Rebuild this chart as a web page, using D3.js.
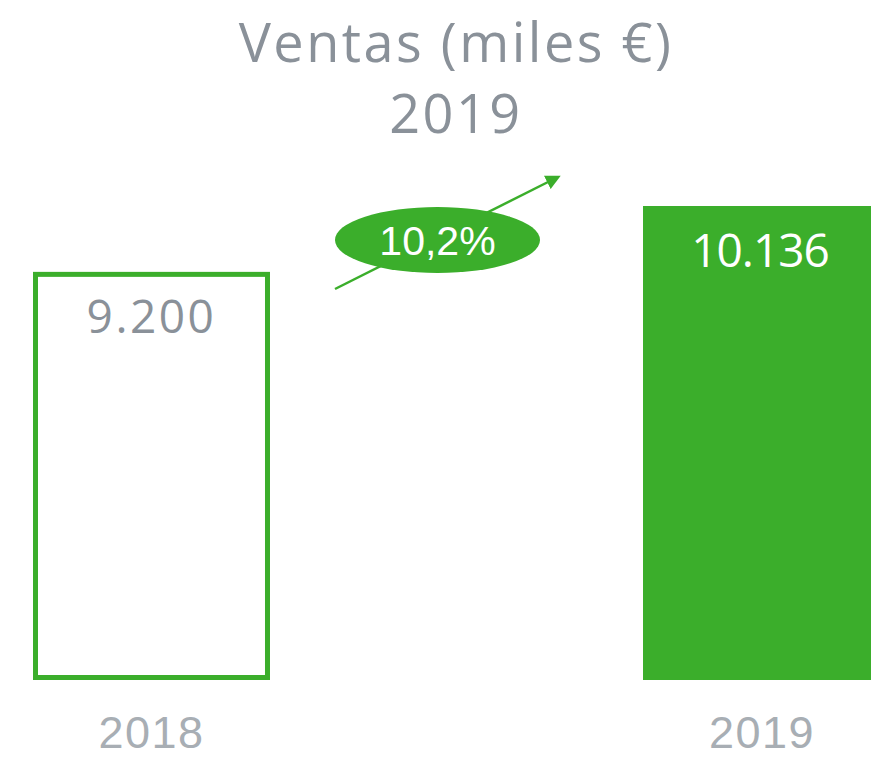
<!DOCTYPE html>
<html>
<head>
<meta charset="utf-8">
<script src="https://cdn.jsdelivr.net/npm/d3@7"></script>
<style>
  body { margin: 0; background: #fff; }
  svg { display: block; }
</style>
</head>
<body>
<div id="chart"></div>
<script>
// data
const years = ['2018', '2019'];
const sales = [9200, 10136];
const valueLabels = ['9.200', '10.136'];
const growthLabel = '10,2%';
const titleLines = ['Ventas (miles €)', '2019'];

const width = 871;
const height = 757;
const green = '#3bae2b';
const grey = '#8a9199';
const lightGrey = '#a8aeb4';

const svg = d3.select('#chart')
    .append('svg')
    .attr('width', width)
    .attr('height', height);

// bars sit in two slots, the right one runs off the edge
const x = d3.scaleBand()
    .domain(years)
    .range([33, 880])
    .paddingInner(0.6115)
    .paddingOuter(0);

// value axis does not start at zero in the original
const y = d3.scaleLinear()
    .domain([3400, 10136])
    .range([680, 206]);

const sw = 5;

// title
svg.selectAll('.title')
    .data(titleLines)
    .enter()
    .append('text')
    .attr('class', 'title')
    .attr('x', 456)
    .attr('y', (d, i) => 62 + i * 71)
    .attr('text-anchor', 'middle')
    .attr('fill', grey)
    .style('font-family', '"Open Sans", sans-serif')
    .style('font-size', '54px')
    .style('letter-spacing', '2.5px')
    .text(d => d);

svg.selectAll('.bar')
    .data(sales)
    .enter()
    .append('rect')
    .attr('class', 'bar')
    .attr('x', (d, i) => i === 0 ? x(years[i]) + sw / 2 : x(years[i]))
    .attr('y', (d, i) => i === 0 ? y(d) + sw / 2 : y(d))
    .attr('width', (d, i) => i === 0 ? x.bandwidth() - sw : x.bandwidth())
    .attr('height', (d, i) => i === 0 ? y.range()[0] - y(d) - sw : y.range()[0] - y(d))
    .attr('fill', (d, i) => i === 0 ? '#fff' : green)
    .attr('stroke', (d, i) => i === 0 ? green : 'none')
    .attr('stroke-width', sw);

// value labels inside bars
svg.selectAll('.value')
    .data(sales)
    .enter()
    .append('text')
    .attr('class', 'value')
    .attr('x', (d, i) => i === 0 ? x(years[i]) + x.bandwidth() / 2 : 760)
    .attr('y', d => y(d) + 61)
    .attr('text-anchor', 'middle')
    .attr('fill', (d, i) => i === 0 ? grey : '#fff')
    .style('font-family', '"Open Sans", sans-serif')
    .style('font-size', '46px')
    .style('letter-spacing', (d, i) => i === 0 ? '2.5px' : '-1px')
    .text((d, i) => valueLabels[i]);

// category labels
svg.selectAll('.year')
    .data(years)
    .enter()
    .append('text')
    .attr('class', 'year')
    .attr('x', (d, i) => i === 0 ? x(d) + x.bandwidth() / 2 : 762)
    .attr('y', 748)
    .attr('text-anchor', 'middle')
    .attr('fill', lightGrey)
    .style('font-family', '"Liberation Sans", Arial, sans-serif')
    .style('font-size', '45px')
    .style('letter-spacing', '1.5px')
    .text(d => d);

// growth arrow
svg.append('defs')
    .append('marker')
    .attr('id', 'head')
    .attr('viewBox', '0 0 10 10')
    .attr('refX', 8)
    .attr('refY', 5)
    .attr('markerWidth', 6)
    .attr('markerHeight', 6)
    .attr('orient', 'auto')
    .append('path')
    .attr('d', 'M0,0L10,5L0,10Z')
    .attr('fill', green);

svg.append('line')
    .attr('x1', 335)
    .attr('y1', 289)
    .attr('x2', 558)
    .attr('y2', 177)
    .attr('stroke', green)
    .attr('stroke-width', 2.5)
    .attr('marker-end', 'url(#head)');

svg.append('ellipse')
    .attr('cx', 437.5)
    .attr('cy', 240)
    .attr('rx', 102.5)
    .attr('ry', 33)
    .attr('fill', green);

svg.append('text')
    .attr('x', 437.5)
    .attr('y', 255)
    .attr('text-anchor', 'middle')
    .attr('fill', '#fff')
    .style('font-family', '"Liberation Sans", Arial, sans-serif')
    .style('font-size', '41px')
    .text(growthLabel);
</script>
</body>
</html>
